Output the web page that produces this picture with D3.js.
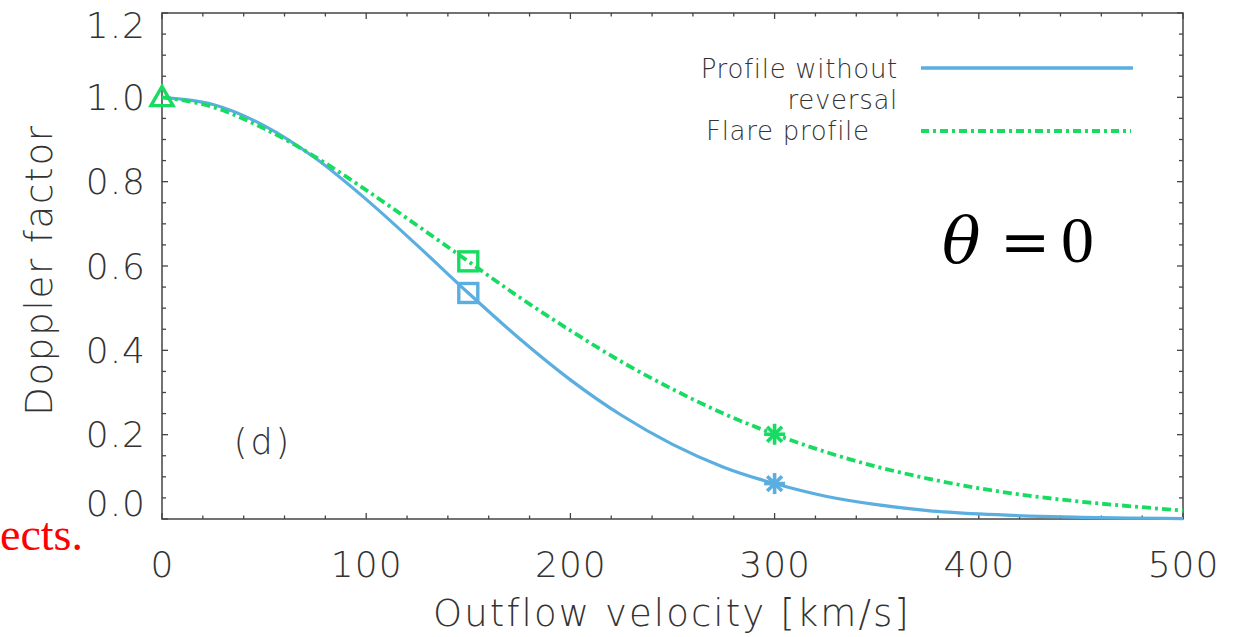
<!DOCTYPE html>
<html>
<head>
<meta charset="utf-8">
<script src="https://cdn.jsdelivr.net/npm/d3@7"></script>
<style>
  body { margin:0; background:#fff; }
  svg { display:block; }
  .tk text { font-family:"DejaVu Sans", sans-serif; font-weight:200; fill:#333; }
</style>
</head>
<body>
<div id="chart"></div>
<script>
// values
var velocity = [0,25,50,75,100,125,150,175,200,225,250,275,300,325,350,375,400,425,450,475,500];
var noReversal = [1.0,0.983,0.933,0.856,0.758,0.649,0.536,0.428,0.330,0.246,0.177,0.123,0.084,0.054,0.034,0.020,0.012,0.007,0.004,0.002,0.001];
var flareProfile = [1.0,0.977,0.926,0.859,0.780,0.696,0.611,0.526,0.447,0.373,0.308,0.250,0.201,0.159,0.124,0.096,0.073,0.055,0.041,0.030,0.020];
var markerV = [0, 150, 300];
var markerBlue = [null, 0.536, 0.084];
var markerGreen = [1.0, 0.611, 0.201];
var xTicks = [0,100,200,300,400,500];
var yTicks = [0,0.2,0.4,0.6,0.8,1.0,1.2];

var W = 1239, H = 637;
var blue = "#5aaee0", green = "#18dc62";

var svg = d3.select("#chart").append("svg").attr("width", W).attr("height", H);

var x = d3.scaleLinear().domain([0,500]).range([162,1183]);
var y = d3.scaleLinear().domain([0,1.2]).range([519,13]);

// frame
svg.append("rect").attr("x",162).attr("y",13).attr("width",1183-162).attr("height",519-13)
  .attr("fill","none").attr("stroke","#444").attr("stroke-width",1.5);

// minor ticks
var minorX = d3.range(0,501,20), minorY = d3.range(0,1.21,0.05);
var tg = svg.append("g").attr("stroke","#444").attr("stroke-width",1.3);
minorX.forEach(function(v){
  var L = (v % 100 === 0) ? 6 : 3.5;
  tg.append("line").attr("x1",x(v)).attr("x2",x(v)).attr("y1",519).attr("y2",519-L);
  tg.append("line").attr("x1",x(v)).attr("x2",x(v)).attr("y1",13).attr("y2",13+L);
});
minorY.forEach(function(v){
  var L = (Math.abs(v*5 - Math.round(v*5)) < 1e-6) ? 6 : 4;
  tg.append("line").attr("y1",y(v)).attr("y2",y(v)).attr("x1",162).attr("x2",162+L);
  tg.append("line").attr("y1",y(v)).attr("y2",y(v)).attr("x1",1183).attr("x2",1183-L);
});

// axes (labels only)
var xa = svg.append("g").attr("class","tk").attr("transform","translate(0,519)")
  .call(d3.axisBottom(x).tickValues(xTicks).tickSize(0).tickPadding(32).tickFormat(d3.format("d")));
var ya = svg.append("g").attr("class","tk").attr("transform","translate(162,0)")
  .call(d3.axisLeft(y).tickValues(yTicks).tickSize(0).tickPadding(16).tickFormat(d3.format(".1f")));
[xa, ya].forEach(function(a){
  a.select(".domain").remove();
  a.selectAll("text").attr("font-size",36).attr("font-family",null).attr("letter-spacing",1);
});
ya.selectAll("text").attr("dy","0.3em")
  .attr("y", function(d){ return d === 0 ? -14 : (d === 1.2 ? 14 : 1.5); });

// axis titles
svg.append("text").attr("x",672).attr("y",626).attr("text-anchor","middle")
  .attr("font-family","DejaVu Sans").attr("font-weight",200).attr("font-size",37).attr("fill","#333")
  .attr("letter-spacing",2.1).text("Outflow velocity [km/s]");
svg.append("text").attr("transform","translate(52,270) rotate(-90)").attr("text-anchor","middle")
  .attr("font-family","DejaVu Sans").attr("font-weight",200).attr("font-size",37).attr("fill","#333")
  .attr("letter-spacing",1.8).text("Doppler factor");

// curves
var line = d3.line().x(function(d){return x(d[0]);}).y(function(d){return y(d[1]);}).curve(d3.curveMonotoneX);
svg.append("path").datum(d3.zip(velocity, noReversal)).attr("d",line)
  .attr("fill","none").attr("stroke",blue).attr("stroke-width",3.2);
svg.append("path").datum(d3.zip(velocity, flareProfile)).attr("d",line)
  .attr("fill","none").attr("stroke",green).attr("stroke-width",3.8).attr("stroke-dasharray","9,4,3,4");

// markers
function star(g, cx, cy, col){
  var r = 10.5;
  [0,45,90,135].forEach(function(a){
    var rad = a*Math.PI/180;
    g.append("line").attr("x1",cx-r*Math.cos(rad)).attr("y1",cy-r*Math.sin(rad))
      .attr("x2",cx+r*Math.cos(rad)).attr("y2",cy+r*Math.sin(rad))
      .attr("stroke",col).attr("stroke-width",3.6);
  });
}
var mg = svg.append("g");
markerV.forEach(function(v,i){
  [[markerBlue[i], blue],[markerGreen[i], green]].forEach(function(p){
    if (p[0] === null) return;
    var cx = x(v), cy = y(p[0]);
    if (i === 0) {
      var s = 11;
      mg.append("path").attr("d","M"+cx+","+(cy-s)+"L"+(cx+s)+","+(cy+s*0.75)+"L"+(cx-s)+","+(cy+s*0.75)+"Z")
        .attr("fill","none").attr("stroke",p[1]).attr("stroke-width",3.4);
    } else if (i === 1) {
      mg.append("rect").attr("x",cx-9.5).attr("y",cy-9.5).attr("width",19).attr("height",19)
        .attr("fill","none").attr("stroke",p[1]).attr("stroke-width",3.4);
    } else {
      star(mg, cx, cy, p[1]);
    }
  });
});

// legend
var lf = {"font-family":"DejaVu Sans","font-weight":200,"font-size":26,"fill":"#333","letter-spacing":0.7};
function lt(txt, tx, ty, anchor){
  var t = svg.append("text").attr("x",tx).attr("y",ty).attr("text-anchor",anchor).text(txt);
  for (var k in lf) t.attr(k, lf[k]);
}
lt("Profile without", 898, 78, "end");
lt("reversal", 898, 109, "end");
lt("Flare profile", 706, 140, "start");
svg.append("line").attr("x1",921).attr("x2",1133).attr("y1",68).attr("y2",68)
  .attr("stroke",blue).attr("stroke-width",3.5);
svg.append("line").attr("x1",921).attr("x2",1131).attr("y1",131).attr("y2",131)
  .attr("stroke",green).attr("stroke-width",3.8).attr("stroke-dasharray","8,4,3,4");

// panel label
svg.append("text").attr("x",263).attr("y",454).attr("text-anchor","middle")
  .attr("font-family","DejaVu Sans").attr("font-weight",200).attr("font-size",35).attr("fill","#333")
  .attr("letter-spacing",3).text("(d)");

// theta annotation
var tf = "'Liberation Serif', 'Times New Roman', serif";
svg.append("text").attr("x",942).attr("y",262).attr("font-size",64).attr("fill","#000")
  .attr("font-family","'DejaVu Serif', serif").attr("font-style","italic").text("θ");
svg.append("text").attr("x",1000).attr("y",262).attr("font-size",60).attr("fill","#000")
  .attr("font-family","'DejaVu Serif', serif").text("=");
svg.append("text").attr("x",1061).attr("y",262).attr("font-size",66).attr("fill","#000")
  .attr("font-family",tf).text("0");

// clipped caption fragment at left
svg.append("text").attr("x",0).attr("y",550)
  .attr("font-family",tf).attr("font-size",46).attr("fill","#ff0000")
  .text("ects.");
</script>
</body>
</html>
